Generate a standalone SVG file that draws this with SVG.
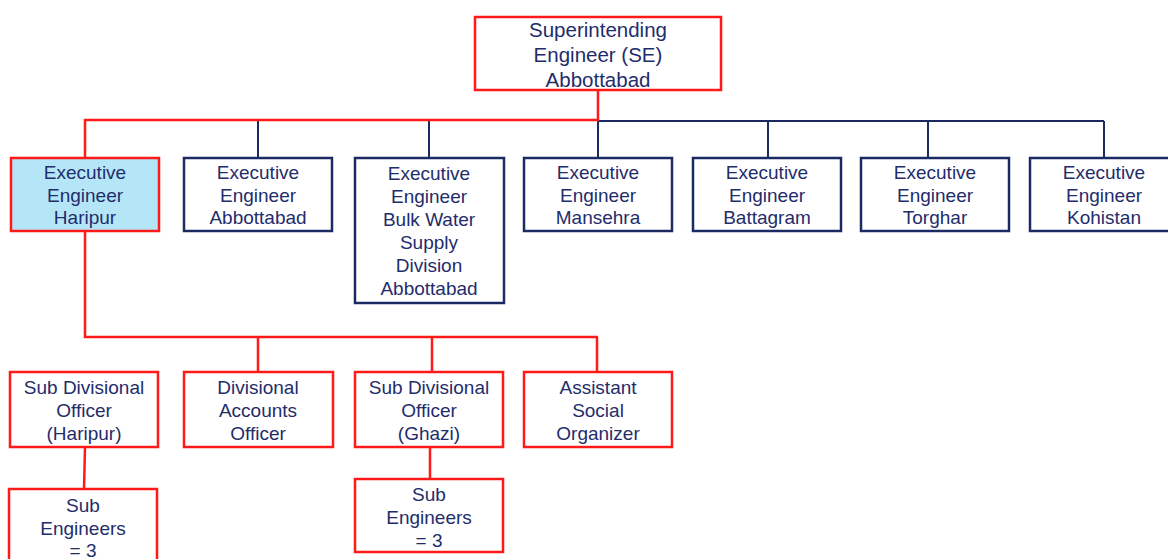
<svg xmlns="http://www.w3.org/2000/svg" width="1168" height="559" viewBox="0 0 1168 559">
<style>
.r{fill:#fff;stroke:#ff1a1a;stroke-width:2.5}
.b{fill:#fff;stroke:#1c2a63;stroke-width:2.5}
.hl{fill:#b5e6f7}
.lr{stroke:#ff1a1a;stroke-width:2.5;fill:none}
.lb{stroke:#1c2a63;stroke-width:2;fill:none}
text{font-family:"Liberation Sans",Arial,sans-serif;font-size:19px;fill:#1f2d6b;text-anchor:middle}
.se{font-size:20.5px}
</style>
<rect width="1168" height="559" fill="#fff"/>
<g id="connectors">
<path class="lb" d="M598 121H1104M258 121V158M429 121V158M598 121V158M768 121V158M928 121V158M1104 121V158"/>
<path class="lr" d="M598 90V120H85V158M85 231V337H598M258 337V372M432 337V372M597 337V372M85 447L84 489M430 447V479"/>
</g>
<g id="se">
<rect class="r" x="475" y="17" width="246" height="73"/>
<text class="se" x="598" y="37">Superintending</text>
<text class="se" x="598" y="62">Engineer (SE)</text>
<text class="se" x="598" y="87">Abbottabad</text>
</g>
<g id="ee-haripur">
<rect class="r hl" x="11" y="158" width="148" height="73"/>
<text x="85" y="179">Executive</text>
<text x="85" y="201.5">Engineer</text>
<text x="85" y="224">Haripur</text>
</g>
<g id="ee-abbottabad">
<rect class="b" x="184" y="158" width="148" height="73"/>
<text x="258" y="179">Executive</text>
<text x="258" y="201.5">Engineer</text>
<text x="258" y="224">Abbottabad</text>
</g>
<g id="ee-bulk">
<rect class="b" x="355" y="158" width="149" height="145"/>
<text x="429" y="180">Executive</text>
<text x="429" y="203">Engineer</text>
<text x="429" y="226">Bulk Water</text>
<text x="429" y="249">Supply</text>
<text x="429" y="272">Division</text>
<text x="429" y="295">Abbottabad</text>
</g>
<g id="ee-mansehra">
<rect class="b" x="524" y="158" width="148" height="73"/>
<text x="598" y="179">Executive</text>
<text x="598" y="201.5">Engineer</text>
<text x="598" y="224">Mansehra</text>
</g>
<g id="ee-battagram">
<rect class="b" x="693" y="158" width="148" height="73"/>
<text x="767" y="179">Executive</text>
<text x="767" y="201.5">Engineer</text>
<text x="767" y="224">Battagram</text>
</g>
<g id="ee-torghar">
<rect class="b" x="861" y="158" width="148" height="73"/>
<text x="935" y="179">Executive</text>
<text x="935" y="201.5">Engineer</text>
<text x="935" y="224">Torghar</text>
</g>
<g id="ee-kohistan">
<rect class="b" x="1030" y="158" width="148" height="73"/>
<text x="1104" y="179">Executive</text>
<text x="1104" y="201.5">Engineer</text>
<text x="1104" y="224">Kohistan</text>
</g>
<g id="sdo-haripur">
<rect class="r" x="10" y="372" width="148" height="75"/>
<text x="84" y="393.5">Sub Divisional</text>
<text x="84" y="416.5">Officer</text>
<text x="84" y="439.5">(Haripur)</text>
</g>
<g id="dao">
<rect class="r" x="184" y="372" width="149" height="75"/>
<text x="258" y="393.5">Divisional</text>
<text x="258" y="416.5">Accounts</text>
<text x="258" y="439.5">Officer</text>
</g>
<g id="sdo-ghazi">
<rect class="r" x="355" y="372" width="148" height="75"/>
<text x="429" y="393.5">Sub Divisional</text>
<text x="429" y="416.5">Officer</text>
<text x="429" y="439.5">(Ghazi)</text>
</g>
<g id="aso">
<rect class="r" x="524" y="372" width="148" height="75"/>
<text x="598" y="393.5">Assistant</text>
<text x="598" y="416.5">Social</text>
<text x="598" y="439.5">Organizer</text>
</g>
<g id="se-haripur">
<rect class="r" x="9" y="489" width="148" height="80"/>
<text x="83" y="511.5">Sub</text>
<text x="83" y="534.5">Engineers</text>
<text x="83" y="557">= 3</text>
</g>
<g id="se-ghazi">
<rect class="r" x="355" y="479" width="148" height="73"/>
<text x="429" y="500.5">Sub</text>
<text x="429" y="523.5">Engineers</text>
<text x="429" y="546.5">= 3</text>
</g>
</svg>
